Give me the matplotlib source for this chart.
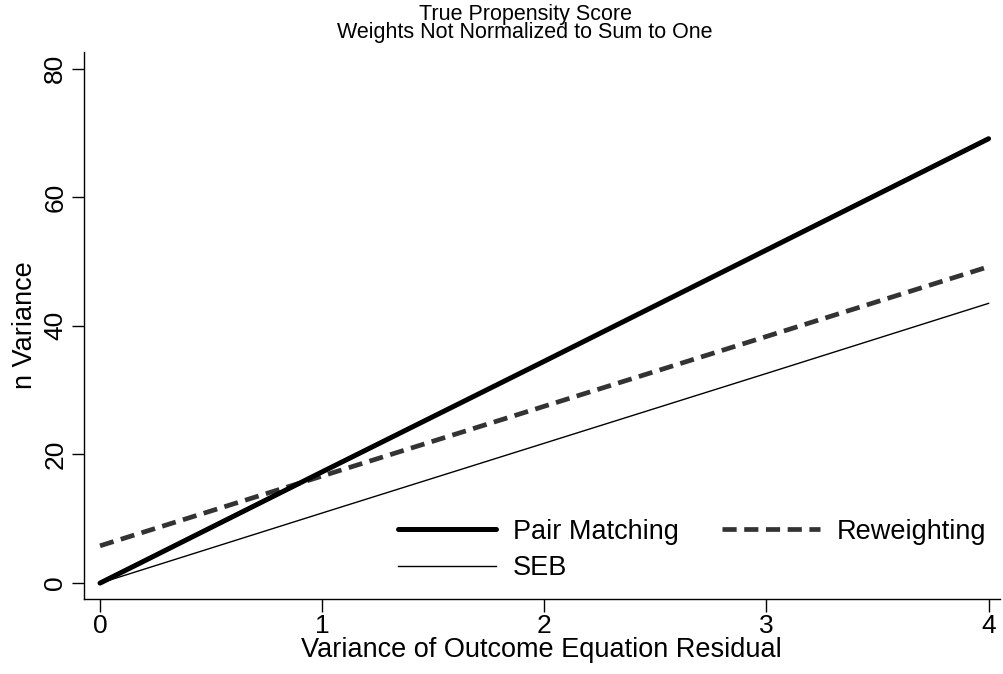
import matplotlib.pyplot as plt

plt.rcParams['font.family'] = ['Liberation Sans', 'DejaVu Sans']

# variance of outcome equation residual
x_values = [0, 1, 2, 3, 4]

pair_matching = [0.0, 17.3, 34.5, 51.8, 69.1]
reweighting = [5.8, 16.65, 27.5, 38.35, 49.2]
seb = [0.0, 10.9, 21.75, 32.6, 43.5]

x_ticks = [0, 1, 2, 3, 4]
y_ticks = [0, 20, 40, 60, 80]

fig = plt.figure(figsize=(10.04, 6.74), dpi=100)
ax = fig.add_axes([0.0837, 0.111, 0.912, 0.812])

l_pair, = ax.plot(x_values, pair_matching, color='black', lw=3.6, solid_capstyle='round', label='Pair Matching', zorder=3)
l_rew, = ax.plot(x_values, reweighting, color='#333333', lw=3.4, dashes=(3, 1.6), label='Reweighting', zorder=2)
l_seb, = ax.plot(x_values, seb, color='black', lw=1.0, label='SEB', zorder=2)

ax.set_xlim(-0.072, 4.05)
ax.set_ylim(-2.5, 82.6)
ax.set_xticks(x_ticks)
ax.set_yticks(y_ticks)
ax.set_yticklabels([str(v) for v in y_ticks], rotation=90, va='center')
ax.tick_params(axis='both', labelsize=19, length=9, width=1, direction='out')
ax.tick_params(axis='x', pad=2)
ax.tick_params(axis='y', pad=3)

for side in ['top', 'right']:
    ax.spines[side].set_visible(False)
for side in ['left', 'bottom']:
    ax.spines[side].set_linewidth(1)

ax.set_xlabel('Variance of Outcome Equation Residual', fontsize=19.5, labelpad=-1)
ax.set_ylabel('n Variance', fontsize=19.5, labelpad=4)

fig.text(0.523, 0.965, 'True Propensity Score\nWeights Not Normalized to Sum to One',
         ha='center', va='center', fontsize=15.5, linespacing=0.85)

# row-major order like the reference: Pair Matching, Reweighting / SEB
ax.legend([l_pair, l_seb, l_rew], ['Pair Matching', 'SEB', 'Reweighting'],
          loc='lower right', bbox_to_anchor=(1.012, -0.012), ncol=2, frameon=False, fontsize=19.5,
          handlelength=3.6, columnspacing=1.6, handletextpad=0.63, labelspacing=0.4)

fig.savefig('out.png', dpi=100)
